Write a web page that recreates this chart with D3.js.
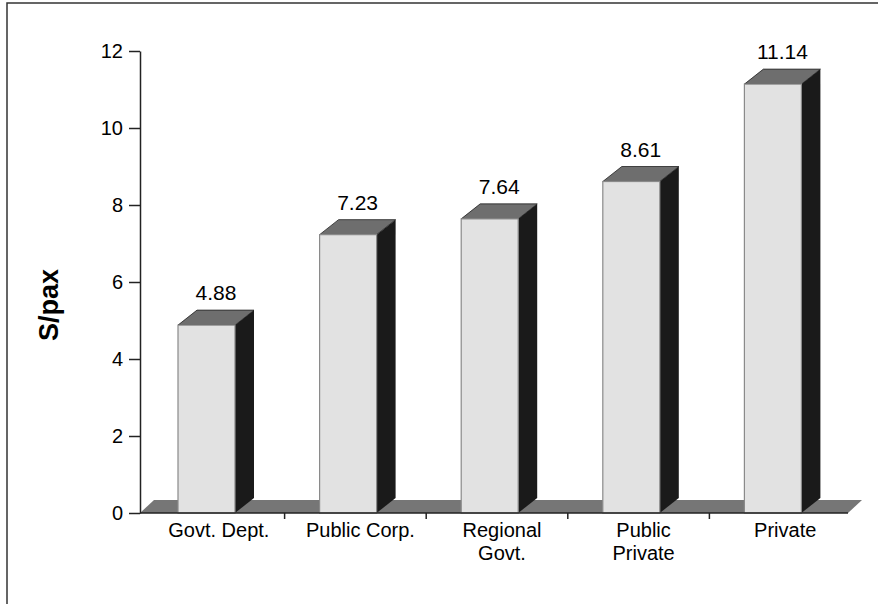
<!DOCTYPE html>
<html>
<head>
<meta charset="utf-8">
<script src="https://cdn.jsdelivr.net/npm/d3@7"></script>
<style>
  html, body { margin: 0; padding: 0; background: #fff; }
  svg { display: block; font-family: "Liberation Sans", Arial, sans-serif; }
</style>
</head>
<body>
<svg id="chart" width="878" height="604"></svg>
<script>
const categories = ["Govt. Dept.", "Public Corp.", "Regional Govt.", "Public Private", "Private"];
const categoryLines = [["Govt. Dept."], ["Public Corp."], ["Regional", "Govt."], ["Public", "Private"], ["Private"]];
const values = [4.88, 7.23, 7.64, 8.61, 11.14];
const valueLabels = ["4.88", "7.23", "7.64", "8.61", "11.14"];
const yTicks = [0, 2, 4, 6, 8, 10, 12];
const yTitle = "S/pax";

const svg = d3.select("#chart");
const FONT = "'Liberation Sans', Arial, sans-serif";

// frame
svg.append("rect").attr("x", 7).attr("y", 3).attr("width", 900).attr("height", 700)
  .attr("fill", "none").attr("stroke", "#333").attr("stroke-width", 1.5);

const x = d3.scaleBand().domain(categories).range([143, 851]).padding(0);
const y = d3.scaleLinear().domain([0, 12]).range([513, 51]);

const barOffset = 35, barW = 57, dx = 19, dy = 15;
const fdx = 14, fdy = 13;

// floor
const x0 = 140, x1 = 848;
svg.append("polygon")
  .attr("points", [[x0, y(0)], [x1, y(0)], [x1 + fdx, y(0) - fdy], [x0 + fdx, y(0) - fdy]].map(p => p.join(",")).join(" "))
  .attr("fill", "#767676");

// bars
const g = svg.append("g");
categories.forEach((c, i) => {
  const left = x(c) + barOffset;
  const right = left + barW;
  const top = y(values[i]);
  const base = y(0);
  // side
  g.append("polygon")
    .attr("points", [[right, top], [right + dx, top - dy], [right + dx, base - dy], [right, base]].map(p => p.join(",")).join(" "))
    .attr("fill", "#1a1a1a");
  // top
  g.append("polygon")
    .attr("points", [[left, top], [left + dx, top - dy], [right + dx, top - dy], [right, top]].map(p => p.join(",")).join(" "))
    .attr("fill", "#6e6e6e").attr("stroke", "#222").attr("stroke-width", 0.8);
  // front
  g.append("rect")
    .attr("x", left).attr("y", top).attr("width", barW).attr("height", base - top)
    .attr("fill", "#e2e2e2").attr("stroke", "#8a8a8a").attr("stroke-width", 1.2);
  // value label
  g.append("text")
    .attr("x", left + (barW + dx) / 2).attr("y", top - 25)
    .attr("text-anchor", "middle").attr("font-size", 21).attr("fill", "#000")
    .attr("font-family", FONT)
    .text(valueLabels[i]);
});

// y axis
const yAxis = d3.axisLeft(y).tickValues(yTicks).tickSize(11).tickSizeOuter(0).tickPadding(6);
const ya = svg.append("g").attr("transform", "translate(140,0)").call(yAxis);
ya.attr("font-size", 20).attr("font-family", FONT);
ya.select(".domain").attr("stroke", "#222").attr("stroke-width", 1.5);
ya.selectAll(".tick line").attr("stroke", "#222").attr("stroke-width", 1.5);
ya.selectAll(".tick text").attr("font-size", 20).attr("fill", "#000");

// x axis line
svg.append("line").attr("x1", x0).attr("x2", x1).attr("y1", y(0)).attr("y2", y(0))
  .attr("stroke", "#222").attr("stroke-width", 1.5);
categories.slice(1).forEach(c => {
  svg.append("line").attr("x1", x(c)).attr("x2", x(c)).attr("y1", y(0)).attr("y2", y(0) + 6)
    .attr("stroke", "#222").attr("stroke-width", 1.5);
});

// category labels
categories.forEach((c, i) => {
  const cx = x(c) + x.bandwidth() / 2 + 5;
  const t = svg.append("text")
    .attr("x", cx).attr("y", 537)
    .attr("text-anchor", "middle").attr("font-size", 20).attr("fill", "#000")
    .attr("font-family", FONT);
  categoryLines[i].forEach((line, j) => {
    t.append("tspan").attr("x", cx).attr("dy", j === 0 ? 0 : 23).text(line);
  });
});

// y title
svg.append("text")
  .attr("transform", "translate(58,305) rotate(-90)")
  .attr("text-anchor", "middle").attr("font-size", 27).attr("font-weight", "bold")
  .attr("font-family", FONT)
  .text(yTitle);
</script>
</body>
</html>
